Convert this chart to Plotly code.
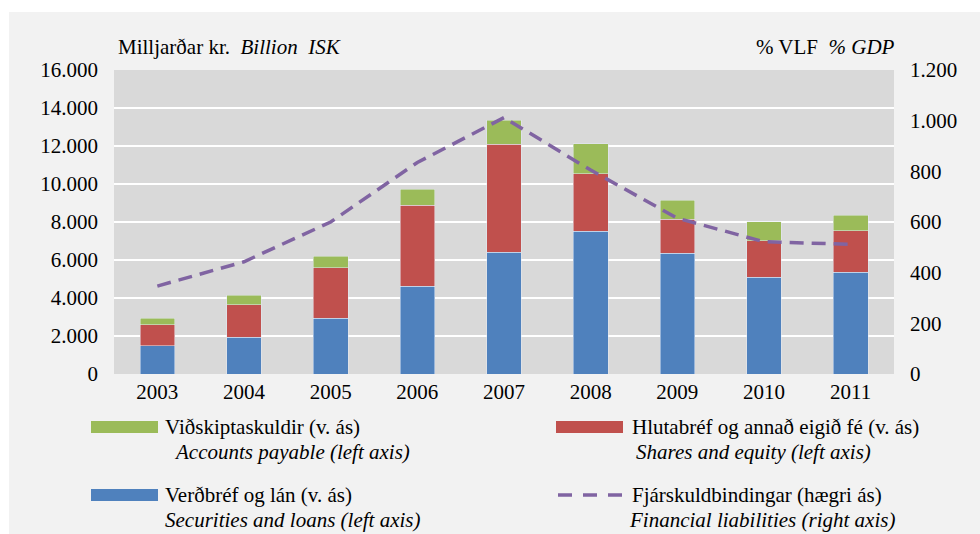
import plotly.graph_objects as go

# data
years = ['2003', '2004', '2005', '2006', '2007', '2008', '2009', '2010', '2011']
securities_loans = [1490, 1930, 2930, 4610, 6400, 7510, 6350, 5100, 5350]
shares_equity = [1090, 1720, 2670, 4280, 5700, 3020, 1790, 1910, 2190]
accounts_payable = [350, 490, 610, 840, 1260, 1580, 1000, 1000, 820]
financial_liabilities = [347, 443, 600, 835, 1012, 805, 615, 522, 512]

BLUE = '#4f81bd'
RED = '#c0504d'
GREEN = '#9bbb59'
PURPLE = '#8064a2'
FONT = 'Times New Roman, Liberation Serif, serif'
FS = 21

# plot area in pixels (980x534 page)
L, R, T, B = 114, 894, 70, 374
W, H = 980, 534


def px(x):
    return (x - L) / (R - L)


def py(y):
    return (B - y) / (B - T)


fig = go.Figure()

fig.add_trace(go.Bar(x=years, y=securities_loans, marker_color=BLUE,
                     name='Verðbréf og lán (v. ás)', showlegend=False))
fig.add_trace(go.Bar(x=years, y=shares_equity, marker_color=RED,
                     name='Hlutabréf og annað eigið fé (v. ás)', showlegend=False))
fig.add_trace(go.Bar(x=years, y=accounts_payable, marker_color=GREEN,
                     name='Viðskiptaskuldir (v. ás)', showlegend=False))
fig.add_trace(go.Scatter(x=years, y=financial_liabilities, yaxis='y2', mode='lines',
                         line=dict(color=PURPLE, width=3.5, dash='14px,8px'),
                         name='Fjárskuldbindingar (hægri ás)', showlegend=False))

shapes = [
    # white strips around the light grey panel
    dict(type='rect', xref='paper', yref='paper', x0=px(0), x1=px(W), y0=py(0), y1=py(12),
         fillcolor='white', line_width=0, layer='below'),
    dict(type='rect', xref='paper', yref='paper', x0=px(0), x1=px(9), y0=py(0), y1=py(H),
         fillcolor='white', line_width=0, layer='below'),
]

# manual legend
legend_items = [
    ('bar', GREEN, 91, 427, 'Viðskiptaskuldir (v. ás)', 163, 'Accounts payable (left axis)', 172),
    ('bar', RED, 556, 427, 'Hlutabréf og annað eigið fé (v. ás)', 630, 'Shares and equity (left axis)', 634),
    ('bar', BLUE, 91, 495, 'Verðbréf og lán (v. ás)', 163, 'Securities and loans (left axis)', 163),
    ('line', PURPLE, 556, 495, 'Fjárskuldbindingar (hægri ás)', 630, 'Financial liabilities (right axis)', 627),
]

annotations = []
for kind, color, sx, sy, label, lx, sub, subx in legend_items:
    if kind == 'bar':
        shapes.append(dict(type='rect', xref='paper', yref='paper',
                           x0=px(sx), x1=px(sx + 67), y0=py(sy - 6), y1=py(sy + 6),
                           fillcolor=color, line_width=0))
    else:
        shapes.append(dict(type='line', xref='paper', yref='paper',
                           x0=px(sx + 2), x1=px(sx + 66), y0=py(sy), y1=py(sy),
                           line=dict(color=color, width=3.5, dash='14px,11px')))
    annotations.append(dict(text=label, xref='paper', yref='paper', x=px(lx), y=py(sy),
                            xanchor='left', yanchor='middle', showarrow=False,
                            font=dict(family=FONT, size=FS, color='black')))
    annotations.append(dict(text='<i>' + sub + '</i>', xref='paper', yref='paper', x=px(subx), y=py(sy + 25),
                            xanchor='left', yanchor='middle', showarrow=False,
                            font=dict(family=FONT, size=FS, color='black')))

# axis unit titles
annotations.append(dict(text='Milljarðar kr.  <i>Billion  ISK</i>', xref='paper', yref='paper',
                        x=px(116), y=py(47), xanchor='left', yanchor='middle', showarrow=False,
                        font=dict(family=FONT, size=FS, color='black')))
annotations.append(dict(text='% VLF  <i>% GDP</i>', xref='paper', yref='paper',
                        x=px(897), y=py(47), xanchor='right', yanchor='middle', showarrow=False,
                        font=dict(family=FONT, size=FS, color='black')))

fig.update_layout(
    barmode='stack',
    bargap=0.6,
    width=W,
    height=H,
    margin=dict(l=L, r=W - R, t=T, b=H - B),
    paper_bgcolor='#f2f2f2',
    plot_bgcolor='#d9d9d9',
    separators=',.',
    font=dict(family=FONT, size=FS, color='black'),
    shapes=shapes,
    annotations=annotations,
    xaxis=dict(showgrid=False, ticks='', tickfont=dict(size=FS), showline=False, zeroline=False,
               ticklabelstandoff=3),
    yaxis=dict(range=[0, 16000], tickvals=list(range(0, 16001, 2000)), tickformat=',d',
               showgrid=True, gridcolor='white', gridwidth=2, zeroline=False,
               ticks='', ticklen=0, tickfont=dict(size=FS), ticklabelstandoff=15),
    yaxis2=dict(range=[0, 1200], tickvals=list(range(0, 1201, 200)), tickformat=',d',
                overlaying='y', side='right', showgrid=False, zeroline=False,
                ticks='', tickfont=dict(size=FS), ticklabelstandoff=15),
)

fig.write_html('out.html', config={'displayModeBar': False},
               post_script="document.body.style.margin='0';")
